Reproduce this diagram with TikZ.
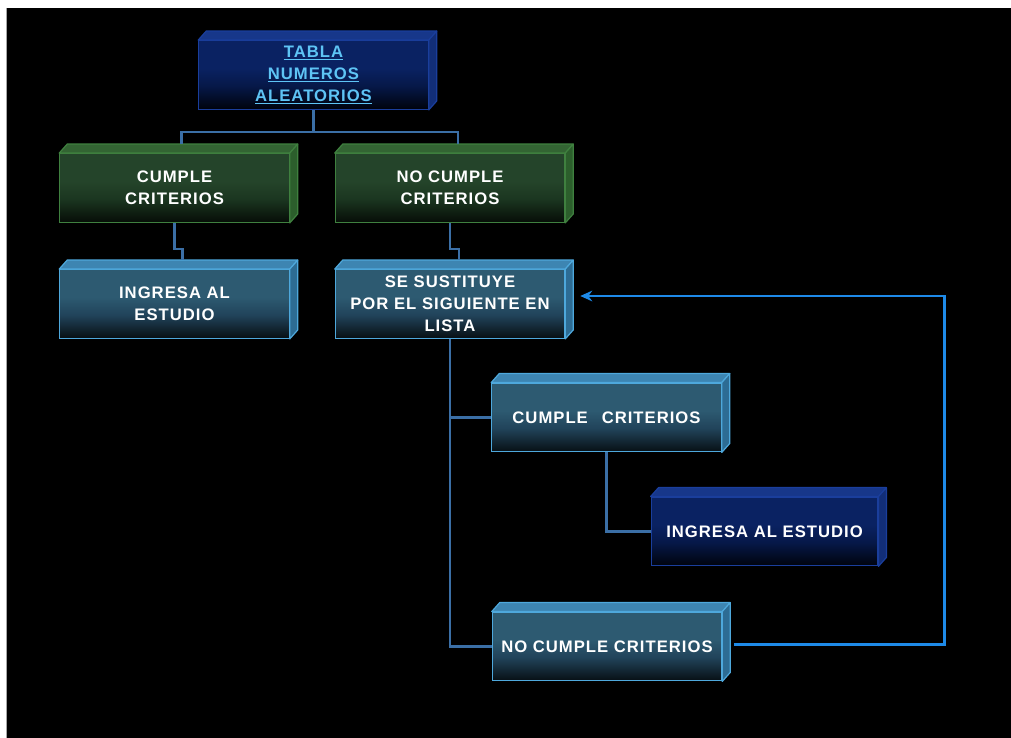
\documentclass[tikz,border=0pt]{standalone}
\usepackage{fontspec}
\usetikzlibrary{calc,arrows.meta}
\newfontfamily\boxfont{Liberation Sans}[LetterSpace=6]
\definecolor{tealtop}{HTML}{2D5A71}
\definecolor{tealmid}{HTML}{21435A}
\definecolor{tealbot}{HTML}{070F13}
\definecolor{tealedge}{HTML}{4EA8DC}
\definecolor{tealface}{HTML}{3D85B2}
\definecolor{tealside}{HTML}{2D6C94}
\definecolor{greentop}{HTML}{24442A}
\definecolor{greenmid}{HTML}{1B3620}
\definecolor{greenbot}{HTML}{060D07}
\definecolor{greenedge}{HTML}{3F803F}
\definecolor{greenface}{HTML}{336433}
\definecolor{greenside}{HTML}{2C5E2C}
\definecolor{navytop}{HTML}{0A2262}
\definecolor{navymid}{HTML}{061848}
\definecolor{navybot}{HTML}{00030C}
\definecolor{navyedge}{HTML}{1A3E9C}
\definecolor{navyface}{HTML}{17378A}
\definecolor{navyside}{HTML}{122E78}
\definecolor{treeline}{HTML}{3B6FA6}
\definecolor{loopline}{HTML}{1E8AE8}
\definecolor{titletext}{HTML}{5EC4F5}
\pgfdeclareverticalshading{tealsh}{100bp}{color(0bp)=(tealbot); color(25bp)=(tealbot); color(42bp)=(tealmid); color(55bp)=(tealtop); color(100bp)=(tealtop)}
\pgfdeclareverticalshading{greensh}{100bp}{color(0bp)=(greenbot); color(25bp)=(greenbot); color(42bp)=(greenmid); color(55bp)=(greentop); color(100bp)=(greentop)}
\pgfdeclareverticalshading{navysh}{100bp}{color(0bp)=(navybot); color(25bp)=(navybot); color(42bp)=(navymid); color(55bp)=(navytop); color(100bp)=(navytop)}
\newcommand\cubefaces[4]{%
  \filldraw[fill=#2,draw=#4,line width=0.9pt,line join=round] (#1.north west) -- ++(8,-9) -- ($(#1.north east)+(8,-9)$) -- (#1.north east) -- cycle;
  \filldraw[fill=#3,draw=#4,line width=0.9pt,line join=round] (#1.north east) -- ++(8,-9) -- ($(#1.south east)+(8,-9)$) -- (#1.south east) -- cycle;
}
\tikzset{
  boxbase/.style={minimum width=172pt,minimum height=51.5pt,inner sep=0pt,align=center,
    text=white,font=\boxfont\bfseries\fontsize{12.5}{16.5}\selectfont,line width=0.9pt,shade},
  tealbox/.style={boxbase,shading=tealsh,draw=tealedge},
  greenbox/.style={boxbase,shading=greensh,draw=greenedge},
  navybox/.style={boxbase,shading=navysh,draw=navyedge},
  tree/.style={draw=treeline,line width=1.9pt},
  feedback/.style={draw=loopline,line width=1.9pt,-{Stealth[length=9pt,width=8pt]}}
}
\begin{document}
\begin{tikzpicture}[x=0.75pt,y=-0.75pt]
\useasboundingbox (0,0) rectangle (1011,738);
\fill[white] (0,0) rectangle (1011,738);
\fill[black] (6,8) rectangle (1011,738);
\draw[color=gray!70,line width=0.9pt] (6.5,8) -- (6.5,738);
% boxes
\node[navybox,text=titletext] (tabla) at (313.5,75) {\underline{TABLA}\\\underline{NUMEROS}\\\underline{ALEATORIOS}};
\cubefaces{tabla}{navyface}{navyside}{navyedge}
\node[greenbox] (g1) at (174.5,188) {CUMPLE\\CRITERIOS};
\cubefaces{g1}{greenface}{greenside}{greenedge}
\node[greenbox] (g2) at (450,188) {NO CUMPLE\\CRITERIOS};
\cubefaces{g2}{greenface}{greenside}{greenedge}
\node[tealbox] (t1) at (174.5,304) {INGRESA AL\\ESTUDIO};
\cubefaces{t1}{tealface}{tealside}{tealedge}
\node[tealbox] (t2) at (450,304) {SE SUSTITUYE\\POR EL SIGUIENTE EN\\LISTA};
\cubefaces{t2}{tealface}{tealside}{tealedge}
\node[tealbox] (t3) at (606.5,417.5) {CUMPLE\hspace{0.5em} CRITERIOS};
\cubefaces{t3}{tealface}{tealside}{tealedge}
\node[navybox,minimum width=170pt] (n2) at (764.5,531.5) {INGRESA AL ESTUDIO};
\cubefaces{n2}{navyface}{navyside}{navyedge}
\node[tealbox] (t4) at (607,646.5) {NO CUMPLE CRITERIOS};
\cubefaces{t4}{tealface}{tealside}{tealedge}
% connectors
\draw[tree] (tabla.south) -- ++(0,22) -| ($(g1.north)+(7,-9)$);
\draw[tree] (tabla.south) -- ++(0,22) -| ($(g2.north)+(8,-9)$);
\draw[tree] (g1.south) -- ++(0,26) -| ($(t1.north)+(8,-9)$);
\draw[tree] (g2.south) -- ++(0,26) -| ($(t2.north)+(9,-9)$);
\draw[tree] (t2.south) |- (t3.west);
\draw[tree] (t2.south) |- (t4.west);
\draw[tree] (t3.south) |- (n2.west);
\draw[feedback] ($(t4.east)+(12,-2)$) -- ++(210,0) |- ($(t2.east)+(15,-8)$);
\end{tikzpicture}
\end{document}
